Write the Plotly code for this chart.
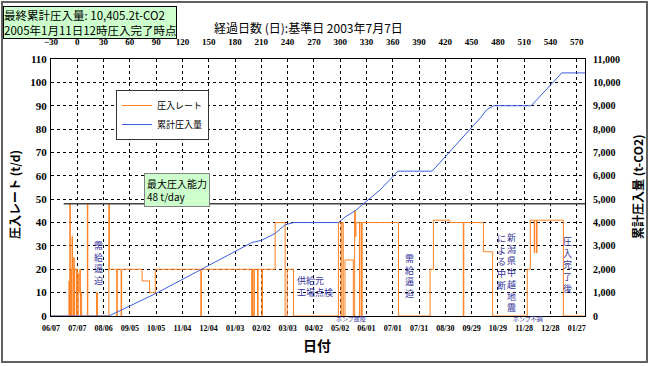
import plotly.graph_objects as go

# ---------------- data ----------------
# injection rate (t/day), step series: change points (elapsed day, rate)
rate_days = [-30, -9.5, -9, -8.5, -8, -7.5, -6.5, -6, -5.5, -4.5, -4, -3.5, -3, -1, -0.5, 0.5,
             1, 2, 3, 3.5, 4, 5, 11.5, 12, 22, 23, 36, 36.6,
             45, 45.6, 50, 50.6, 74, 82.5, 89, 141, 141.6, 199, 200, 201.5, 202, 205.7, 206.3,
             210.7, 211.3, 225.8, 237.2, 239.5, 246.7,
             298, 301, 302, 303.5, 305.5, 315, 316.5, 317.3, 318, 322, 322.6, 324.5, 325.1, 366.5,
             402.6, 406.4, 425, 440.5, 441.1, 463.5, 474,
             513.5, 517, 521.5, 522, 524, 524.6, 554.7, 579.4]
rate_vals = [0, 15, 0, 48, 0, 20, 0, 34, 20, 0, 25, 0, 20, 0, 20, 0,
             18, 10, 20, 0, 10, 0, 48, 0, 10, 0, 48, 20,
             0, 20, 0, 20, 15, 10, 20, 0, 20, 0, 20, 0, 20, 0, 20,
             0, 20, 40, 0, 20, 0,
             40, 0, 40, 0, 24, 0, 45, 34, 40, 0, 40, 0, 40, 0,
             20, 41, 40, 0, 40, 27.5, 0,
             20, 41, 27, 41, 27, 41, 0, 0]

# cumulative injected amount (t-CO2)
cum_days = [-30, 36, 90, 141, 199, 211, 226, 237, 247, 298, 306, 317, 327, 345.6, 366,
            405, 460, 467, 475, 518, 553, 579.4]
cum_vals = [0, 0, 970, 2000, 3140, 3250, 3540, 3900, 4000, 4000, 4250, 4500, 4820, 5400, 6200,
            6200, 8480, 8820, 9000, 9000, 10405, 10405]

# maximum injection capacity line
capacity_value = 48
capacity_days = [-15.5, 579.4]

# axis ticks
day_ticks = [-30, 0, 30, 60, 90, 120, 150, 180, 210, 240, 270, 300, 330, 360, 390, 420, 450,
             480, 510, 540, 570]
date_labels = ["06/07", "07/07", "08/06", "09/05", "10/05", "11/04", "12/04", "01/03", "02/02",
               "03/03", "04/02", "05/02", "06/01", "07/01", "07/31", "08/30", "09/29", "10/29",
               "11/28", "12/28", "01/27"]
rate_ticks = [0, 10, 20, 30, 40, 50, 60, 70, 80, 90, 100, 110]
cum_ticks = [0, 1000, 2000, 3000, 4000, 5000, 6000, 7000, 8000, 9000, 10000, 11000]

# event notes (vertical text)
note_texts = ["需給逼迫", "需給逼迫", "による中断", "新潟県中越地震", "圧入完了後"]
note_days = [24, 379, 484.4, 495.8, 559.3]
note_levels = [22.9, 17.1, 23.3, 18.6, 21.8]
supply_note = ["供給元", "工場点検"]
supply_day = 248.7
supply_level = 12.6
pump_notes = ["ポンプ故障", "ポンプ不調"]
pump_days = [312.5, 514.7]

X_RANGE = [-30, 579.4]
SERIF = "Liberation Serif"
GOTHIC = "Noto Sans CJK JP"
NOTE_COLOR = "#333399"

fig = go.Figure()
fig.add_trace(go.Scatter(x=rate_days, y=rate_vals, mode="lines", line_shape="hv",
                         name="圧入レート", line=dict(color="#ff8020", width=1),
                         xaxis="x", yaxis="y"))
fig.add_trace(go.Scatter(x=cum_days, y=cum_vals, mode="lines", name="累計圧入量",
                         line=dict(color="#3a5fe0", width=1), xaxis="x2", yaxis="y2"))
fig.add_trace(go.Scatter(x=capacity_days, y=[capacity_value] * len(capacity_days), mode="lines",
                         line=dict(color="#404040", width=1.5), showlegend=False,
                         hoverinfo="skip", xaxis="x", yaxis="y"))

annotations = []
for t, d, v in zip(note_texts, note_days, note_levels):
    annotations.append(dict(x=d, y=v, xref="x", yref="y", text="<br>".join(list(t)),
                            showarrow=False, font=dict(family=GOTHIC, size=9, color=NOTE_COLOR),
                            xanchor="center", yanchor="middle"))
annotations.append(dict(x=supply_day, y=supply_level, xref="x", yref="y",
                        text="<br>".join(supply_note), showarrow=False, align="left",
                        font=dict(family=GOTHIC, size=9, color=NOTE_COLOR),
                        xanchor="left", yanchor="middle"))
for t, d in zip(pump_notes, pump_days):
    annotations.append(dict(x=d, y=(316 - 318.5) / 257, xref="x", yref="paper", text=t,
                            showarrow=False, borderpad=0,
                            font=dict(family=GOTHIC, size=6, color=NOTE_COLOR),
                            xanchor="center", yanchor="middle"))
# capacity label box
annotations.append(dict(x=76.4, y=61.2, xref="x", yref="y",
                        text=f"最大圧入能力<br>{capacity_value} t/day", showarrow=False,
                        align="left", xanchor="left", yanchor="top",
                        font=dict(family=GOTHIC, size=10, color="#000"),
                        bgcolor="#ccffcc", bordercolor="#808080", borderwidth=1, borderpad=2))
# final total box
annotations.append(dict(x=(3 - 51) / 534, y=(316 - 6) / 257, xref="paper", yref="paper",
                        text="最終累計圧入量: 10,405.2t-CO2<br>2005年1月11日12時圧入完了時点",
                        showarrow=False, align="left", xanchor="left", yanchor="top",
                        font=dict(family=GOTHIC, size=11.5, color="#000"),
                        bgcolor="#ccffcc", bordercolor="#000", borderwidth=1, borderpad=0))
# top axis title
annotations.append(dict(x=(308 - 51) / 534, y=(316 - 27) / 257, xref="paper", yref="paper",
                        text="経過日数 (日):基準日 2003年7月7日", showarrow=False,
                        xanchor="center", yanchor="middle",
                        font=dict(family=GOTHIC, size=12, color="#000")))
# axis titles
annotations.append(dict(x=(14 - 51) / 534, y=(316 - 195) / 257, xref="paper", yref="paper",
                        text="圧入レート (t/d)", textangle=-90, showarrow=False,
                        xanchor="center", yanchor="middle",
                        font=dict(family=GOTHIC, size=12, color="#000", weight="bold")))
annotations.append(dict(x=(637 - 51) / 534, y=(316 - 187) / 257, xref="paper", yref="paper",
                        text="累計圧入量 (t-CO2)", textangle=-90, showarrow=False,
                        xanchor="center", yanchor="middle",
                        font=dict(family=GOTHIC, size=12, color="#000", weight="bold")))
annotations.append(dict(x=(317 - 51) / 534, y=(316 - 345) / 257, xref="paper", yref="paper",
                        text="日付", showarrow=False, xanchor="center", yanchor="middle",
                        font=dict(family=GOTHIC, size=14, color="#000", weight="bold")))

fig.update_layout(
    width=652, height=366,
    margin=dict(l=51, r=67, t=59, b=50, autoexpand=False),
    paper_bgcolor="white", plot_bgcolor="white",
    showlegend=True,
    legend=dict(x=(116 - 51) / 534, y=(316 - 90) / 257, xanchor="left", yanchor="top",
                bgcolor="white", bordercolor="#333", borderwidth=1,
                font=dict(family=GOTHIC, size=9, color="#000"),
                itemwidth=30, tracegroupgap=0),
    xaxis=dict(range=X_RANGE, tickvals=day_ticks, ticktext=date_labels, automargin=False,
               tickfont=dict(family=SERIF, size=8, color="#000", weight="bold"),
               showgrid=True, gridcolor="#000", griddash="dot", gridwidth=1,
               showline=True, linecolor="#000", linewidth=1, mirror=True,
               ticks="outside", ticklen=4, tickcolor="rgba(0,0,0,0)", zeroline=False),
    xaxis2=dict(range=X_RANGE, overlaying="x", side="top", anchor="y2", tickvals=day_ticks,
                automargin=False,
                tickfont=dict(family=SERIF, size=9, color="#000", weight="bold"),
                showgrid=False, zeroline=False, showline=False,
                ticks="outside", ticklen=9, tickcolor="rgba(0,0,0,0)"),
    yaxis=dict(range=[0, 110], tickvals=rate_ticks, automargin=False,
               tickfont=dict(family=SERIF, size=11, color="#000", weight="bold"),
               showgrid=True, gridcolor="#000", griddash="dot", gridwidth=1,
               showline=True, linecolor="#000", linewidth=1, mirror=True, zeroline=False,
               ticks="outside", ticklen=1, tickcolor="rgba(0,0,0,0)"),
    yaxis2=dict(range=[0, 11000], overlaying="y", side="right", anchor="x2", tickvals=cum_ticks,
                automargin=False,
                tickformat=",", showgrid=False, zeroline=False, showline=False,
                tickfont=dict(family=SERIF, size=10, color="#000", weight="bold"),
                ticks="outside", ticklen=5, tickcolor="rgba(0,0,0,0)"),
    annotations=annotations,
    shapes=[dict(type="rect", xref="paper", yref="paper",
                 x0=(2 - 51) / 534, x1=(647 - 51) / 534,
                 y0=(316 - 362) / 257, y1=(316 - 2) / 257,
                 line=dict(color="#606060", width=2), layer="below")],
)

fig.write_html("out.html", config={"displayModeBar": False},
               post_script="document.body.style.margin='0px';")
